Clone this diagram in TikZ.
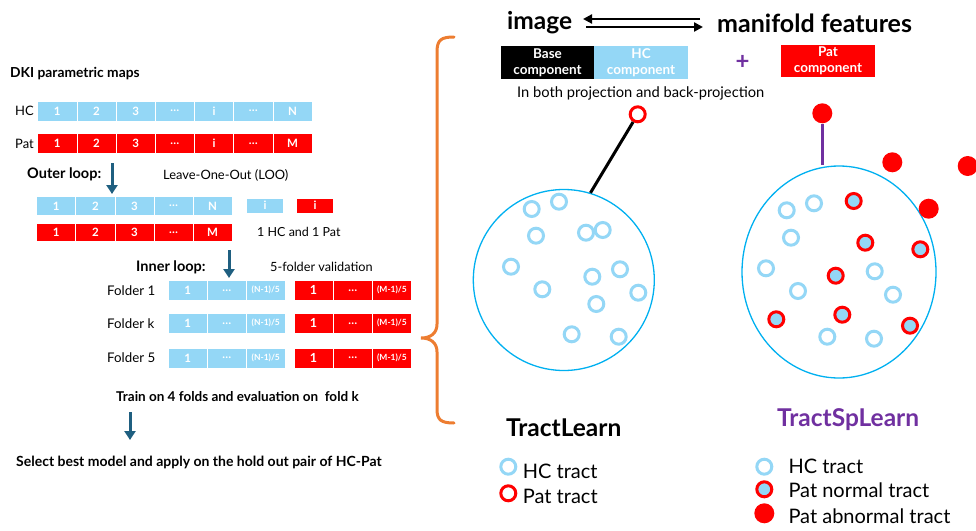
\documentclass[tikz,border=0pt]{standalone}
\usepackage{fontspec}
\setmainfont{Lato}
\usetikzlibrary{arrows.meta,shapes.geometric}

\definecolor{hcblue}{HTML}{94D7F6}
\definecolor{patred}{HTML}{FF0000}
\definecolor{rimblue}{HTML}{00B0F0}
\definecolor{bracecol}{HTML}{ED7D31}
\definecolor{tealarr}{HTML}{1F5F80}
\definecolor{purp}{HTML}{7030A0}

\newcommand\fs[1]{\fontsize{#1}{#1}\selectfont}

\tikzset{
  cell/.style={rectangle, draw=white, line width=0.8pt, text=white, inner sep=0pt, font=\bfseries\fs{11.5}},
  hccell/.style={cell, fill=hcblue},
  patcell/.style={cell, fill=patred},
  lbl/.style={anchor=west, inner sep=0pt, font=\fs{13}},
  blbl/.style={anchor=west, inner sep=0pt, font=\bfseries\fs{13}},
  flow/.style={draw=tealarr, line width=3pt, -{Triangle[width=11pt,length=9pt]}},
  dblarr/.style={draw=black, line width=2.4pt, -{Triangle[width=9pt,length=9pt]}},
  hcring/.style={circle, draw=hcblue, line width=3pt, minimum size=15pt, inner sep=0pt, fill=white},
  patring/.style={circle, draw=patred, line width=3pt, minimum size=15pt, inner sep=0pt, fill=hcblue},
  patopen/.style={circle, draw=patred, line width=3pt, minimum size=15pt, inner sep=0pt, fill=white},
  patdot/.style={circle, fill=patred, minimum size=20pt, inner sep=0pt},
  compbox/.style={rectangle, inner sep=0pt, text=white, align=center, font=\bfseries\fontsize{13.5}{16}\selectfont},
  legtext/.style={anchor=west, inner sep=0pt, font=\fs{20}},
}

\begin{document}
\begin{tikzpicture}[x=1pt,y=-1pt]
\useasboundingbox (0,0) rectangle (976,530);

% ---------------- left: cross-validation scheme ----------------
\node[blbl, font=\bfseries\fs{13.8}] (dki) at (10,74) {DKI parametric maps};

\node[lbl] (hcl) at (15,111) {HC};
\node[lbl] (patl) at (15,143.5) {Pat};
\foreach \t [count=\i] in {1,2,3,\ldots,i,\ldots,N}
  \node[hccell, minimum width=39.2pt, minimum height=20pt] (hA\i) at ({37.7+39.2*(\i-0.5)},111) {\t};
\foreach \t [count=\i] in {1,2,3,\ldots,i,\ldots,M}
  \node[patcell, minimum width=39.2pt, minimum height=20pt] (pA\i) at ({37.7+39.2*(\i-0.5)},143.5) {\t};

% outer loop
\node[blbl, font=\bfseries\fs{14.5}] (outer) at (27,174) {Outer loop:};
\node[lbl, font=\fs{12.9}] (loo) at (163,175) {Leave-One-Out (LOO)};
\coordinate (oa1) at (112,163);
\coordinate (oa2) at (112,194);
\draw[flow] (oa1) -- (oa2);

\foreach \t [count=\i] in {1,2,3,\ldots,N}
  \node[hccell, minimum width=39.1pt, minimum height=18.5pt] (hB\i) at ({36.7+39.1*(\i-0.5)},206) {\t};
\foreach \t [count=\i] in {1,2,3,\ldots,M}
  \node[patcell, minimum width=39.1pt, minimum height=18.5pt] (pB\i) at ({36.7+39.1*(\i-0.5)},232.5) {\t};
\node[hccell, minimum width=36.6pt, minimum height=15pt] (hout) at (265,205.5) {i};
\node[patcell, minimum width=36.6pt, minimum height=15pt] (pout) at (315,205.5) {i};
\node[lbl, font=\fs{12.5}] (pair) at (257,232) {1 HC and 1 Pat};

% inner loop
\node[blbl, font=\bfseries\fs{14.5}] (inner) at (136,267) {Inner loop:};
\node[lbl, font=\fs{12.7}] (fivef) at (270,267) {5-folder validation};
\coordinate (ia1) at (229,250);
\coordinate (ia2) at (229,278);
\draw[flow] (ia1) -- (ia2);

\foreach \y/\n/\lab in {290.3/1/1, 323.3/2/k, 358/3/5} {
  \node[lbl, font=\fs{13.3}] (fold\n) at (107,\y) {Folder \lab};
  \node[hccell, minimum width=39pt, minimum height=20pt] (fh\n-a) at (187.8,\y) {1};
  \node[hccell, minimum width=39pt, minimum height=20pt] (fh\n-b) at (226.8,\y) {\ldots};
  \node[hccell, minimum width=39pt, minimum height=20pt, font=\bfseries\fs{8.5}] (fh\n-c) at (265.8,\y) {(N-1)/5};
  \node[patcell, minimum width=39.2pt, minimum height=20pt, font=\bfseries\fs{12.5}] (fp\n-a) at (313.6,\y) {1};
  \node[patcell, minimum width=39.2pt, minimum height=20pt] (fp\n-b) at (352.8,\y) {\ldots};
  \node[patcell, minimum width=39.2pt, minimum height=20pt, font=\bfseries\fs{8.5}] (fp\n-c) at (392,\y) {(M-1)/5};
}

\node[blbl, font=\bfseries\fs{13.5}] (train) at (116,397) {Train on 4 folds and evaluation on\ \ fold k};
\coordinate (ba1) at (130,412);
\coordinate (ba2) at (130,440);
\draw[flow] (ba1) -- (ba2);
\node[blbl, font=\bfseries\fs{14}] (select) at (16,462) {Select best model and apply on the hold out pair of HC-Pat};

% orange brace
\draw[bracecol, line width=3pt, line cap=round]
  (454,37) .. controls (441,37) and (437,40) .. (437,52)
  -- (437,324) .. controls (437,333) and (431,338) .. (421,338)
  .. controls (431,338) and (437,343) .. (437,352)
  -- (437,409) .. controls (437,420) and (441,423) .. (454,423);

% ---------------- right: feature decomposition ----------------
\node[blbl, font=\bfseries\fs{24.5}] (img) at (507,23) {image};
\node[blbl, font=\bfseries\fs{25}] (mani) at (717,23) {manifold features};
\coordinate (d1) at (583,19);
\coordinate (d2) at (700,19);
\coordinate (d3) at (586,27);
\coordinate (d4) at (703,27);
\draw[dblarr] (d2) -- (d1);
\draw[dblarr] (d3) -- (d4);

\node[compbox, fill=black, minimum width=93pt, minimum height=33pt] (base) at (547.5,62.5) {Base\\component};
\node[compbox, fill=hcblue, minimum width=94pt, minimum height=33pt] (hcc) at (641,62.5) {HC\\component};
\node[font=\bfseries\fs{24}, text=purp, inner sep=0pt] (plus) at (742.5,62) {+};
\node[compbox, fill=patred, minimum width=94pt, minimum height=32pt] (patc) at (828,61) {Pat\\component};
\node[lbl, font=\fs{14.7}] (both) at (517,93) {In both projection and back-projection};

% TractLearn manifold
\node[circle, draw=rimblue, line width=1.3pt, minimum size=181pt, inner sep=0pt] (tlC) at (563.8,280) {};
\node[patopen] (tlOut) at (637.7,114.3) {};
\draw[line width=3pt] (tlOut) -- (tlC.73);
\foreach \x/\y [count=\k] in {531.7/209, 559/201.7, 536/235.7, 586/232.7, 602.7/230, 511/266.7,
    592.3/276.7, 620/269.3, 542.3/289.3, 638.3/292.7, 596.3/304, 571.7/334.3, 618.7/336.7}
  \node[hcring] (tlr\k) at (\x,\y) {};

% TractSpLearn manifold
\node[ellipse, draw=rimblue, line width=1.3pt, minimum width=194pt, minimum height=212pt, inner sep=0pt] (tsE) at (839,272) {};
\node[patdot] (tsOut) at (822.3,113.3) {};
\draw[purp, line width=3pt] (tsOut) -- (tsOut |- tsE.north);
\node[patdot] (tsO2) at (892.3,162.3) {};
\node[patdot] (tsO3) at (967.7,166) {};
\node[patdot] (tsO4) at (928.7,208.7) {};
\foreach \x/\y [count=\k] in {786.7/210.3, 814/203.3, 791/237.7, 766/268.3, 798/291,
    874.7/271.3, 893/294.7, 827.3/336.7, 874/338.7}
  \node[hcring] (tsh\k) at (\x,\y) {};
\foreach \x/\y [count=\k] in {853.7/201, 865.3/242.7, 920.3/249.3, 835.7/275.7,
    842.3/314.7, 776.3/319.3, 910/325.7}
  \node[patring] (tsp\k) at (\x,\y) {};

% titles and legends
\node[blbl, font=\bfseries\fs{24.5}] (tlTitle) at (506,428) {TractLearn};
\node[blbl, font=\bfseries\fs{24.5}, text=purp] (tsTitle) at (777,420) {TractSpLearn};

\node[hcring] (lg1) at (508.3,466.7) {};
\node[legtext] (lg1t) at (522.7,471.7) {HC tract};
\node[patopen] (lg2) at (508.3,493.3) {};
\node[legtext] (lg2t) at (522.7,496.7) {Pat tract};

\node[hcring] (lg3) at (764.3,466.7) {};
\node[legtext] (lg3t) at (788.3,466.7) {HC tract};
\node[patring] (lg4) at (764.3,489.3) {};
\node[legtext] (lg4t) at (788.3,490.7) {Pat normal tract};
\node[patdot] (lg5) at (764.3,513.3) {};
\node[legtext] (lg5t) at (788.3,516) {Pat abnormal tract};
\end{tikzpicture}
\end{document}
